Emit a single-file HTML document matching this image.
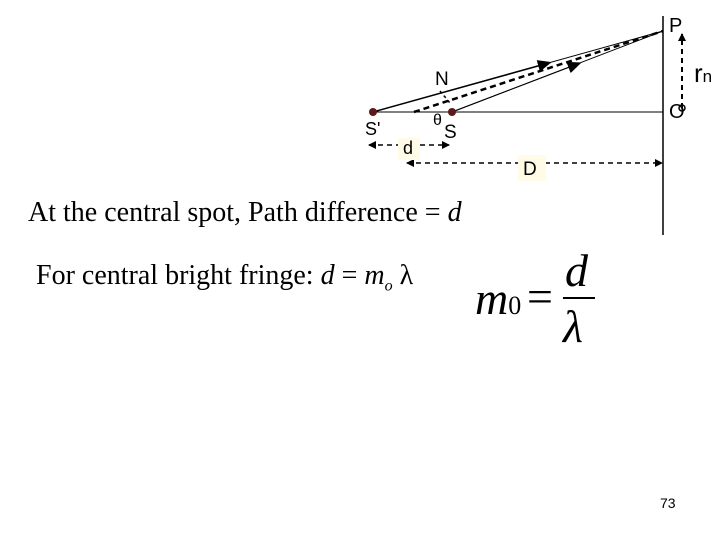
<!DOCTYPE html>
<html><head><style>
body{margin:0;width:720px;height:540px;background:#fff;position:relative;overflow:hidden;font-family:"Liberation Serif",serif}
.t{position:absolute;white-space:nowrap;color:#000}
.s{font-family:"Liberation Sans",sans-serif}
</style></head><body>
<svg width="720" height="540" style="position:absolute;left:0;top:0">
<defs><marker id="a" markerWidth="8" markerHeight="8" refX="7" refY="4" orient="auto" markerUnits="userSpaceOnUse"><path d="M0,0L8,4L0,8z" fill="#000"/></marker>
<marker id="b" markerWidth="14" markerHeight="12" refX="7" refY="6" orient="auto" markerUnits="userSpaceOnUse"><path d="M0,0L14,6L0,12z" fill="#000"/></marker></defs>
<line x1="663" y1="16" x2="663" y2="235" stroke="#000" stroke-width="1.5"/>
<line x1="373" y1="112" x2="663" y2="112" stroke="#000"/>
<line x1="373" y1="112" x2="663" y2="31" stroke="#000"/>
<line x1="452" y1="112" x2="663" y2="31" stroke="#000"/>
<line x1="373" y1="112" x2="545" y2="64" stroke="#000" stroke-width="1.5" marker-end="url(#b)"/>
<line x1="414" y1="112" x2="663" y2="31" stroke="#000" stroke-width="2.5" stroke-dasharray="6,4"/>
<line x1="452" y1="112" x2="575" y2="65" stroke="#000" stroke-width="1" marker-end="url(#b)"/>
<line x1="440" y1="91" x2="450" y2="103" stroke="#000" stroke-width="1.5" stroke-dasharray="3,3"/>
<line x1="682" y1="108" x2="682" y2="34" stroke="#000" stroke-width="2" stroke-dasharray="5,4" marker-end="url(#a)"/>
<line x1="410" y1="145" x2="369" y2="145" stroke="#000" stroke-width="1.5" stroke-dasharray="5,4" marker-end="url(#a)"/>
<line x1="420" y1="145" x2="449" y2="145" stroke="#000" stroke-width="1.5" stroke-dasharray="5,4" marker-end="url(#a)"/>
<line x1="520" y1="163" x2="407" y2="163" stroke="#000" stroke-width="1.5" stroke-dasharray="5,4" marker-end="url(#a)"/>
<line x1="545" y1="163" x2="662" y2="163" stroke="#000" stroke-width="1.5" stroke-dasharray="5,4" marker-end="url(#a)"/>
<circle cx="373" cy="112" r="4" fill="#5a1a1a"/>
<circle cx="452" cy="112" r="4" fill="#5a1a1a"/>
<circle cx="682" cy="108" r="3" fill="none" stroke="#000" stroke-width="1.5"/>
<rect x="398" y="138" width="22" height="22" fill="#fffbe6"/>
<rect x="518" y="155" width="28" height="26" fill="#fffbe6"/>
<line x1="563" y1="298" x2="595" y2="298" stroke="#000" stroke-width="2"/>
</svg>
<div class="t s" style="left:669px;top:15px;font-size:20px">P</div>
<div class="t s" style="left:694px;top:58px;font-size:26px">r<span style="font-size:17px">n</span></div>
<div class="t s" style="left:669px;top:101px;font-size:20px">O</div>
<div class="t s" style="left:435px;top:69px;font-size:19px">N</div>
<div class="t s" style="left:365px;top:119px;font-size:18px">S'</div>
<div class="t s" style="left:444px;top:122px;font-size:19px">S</div>
<div class="t s" style="left:433px;top:112px;font-size:16px">θ</div>
<div class="t s" style="left:403px;top:138px;font-size:18px">d</div>
<div class="t s" style="left:523px;top:159px;font-size:19px">D</div>
<div class="t" style="left:28px;top:197px;font-size:28px">At the central spot, Path difference = <i>d</i></div>
<div class="t" style="left:36px;top:260px;font-size:28px">For central bright fringe: <i>d</i> = <i>m<sub style="font-size:16px">o</sub></i> λ</div>
<div class="t" style="left:475px;top:272px;font-size:46px"><i>m</i><span style="font-size:26px">0</span></div>
<div class="t" style="left:527px;top:270px;font-size:46px">=</div>
<div class="t" style="left:565px;top:244px;font-size:46px"><i>d</i></div>
<div class="t" style="left:563px;top:300px;font-size:46px"><i>λ</i></div>
<div class="t s" style="left:660px;top:495px;font-size:14px">73</div>
</body></html>
